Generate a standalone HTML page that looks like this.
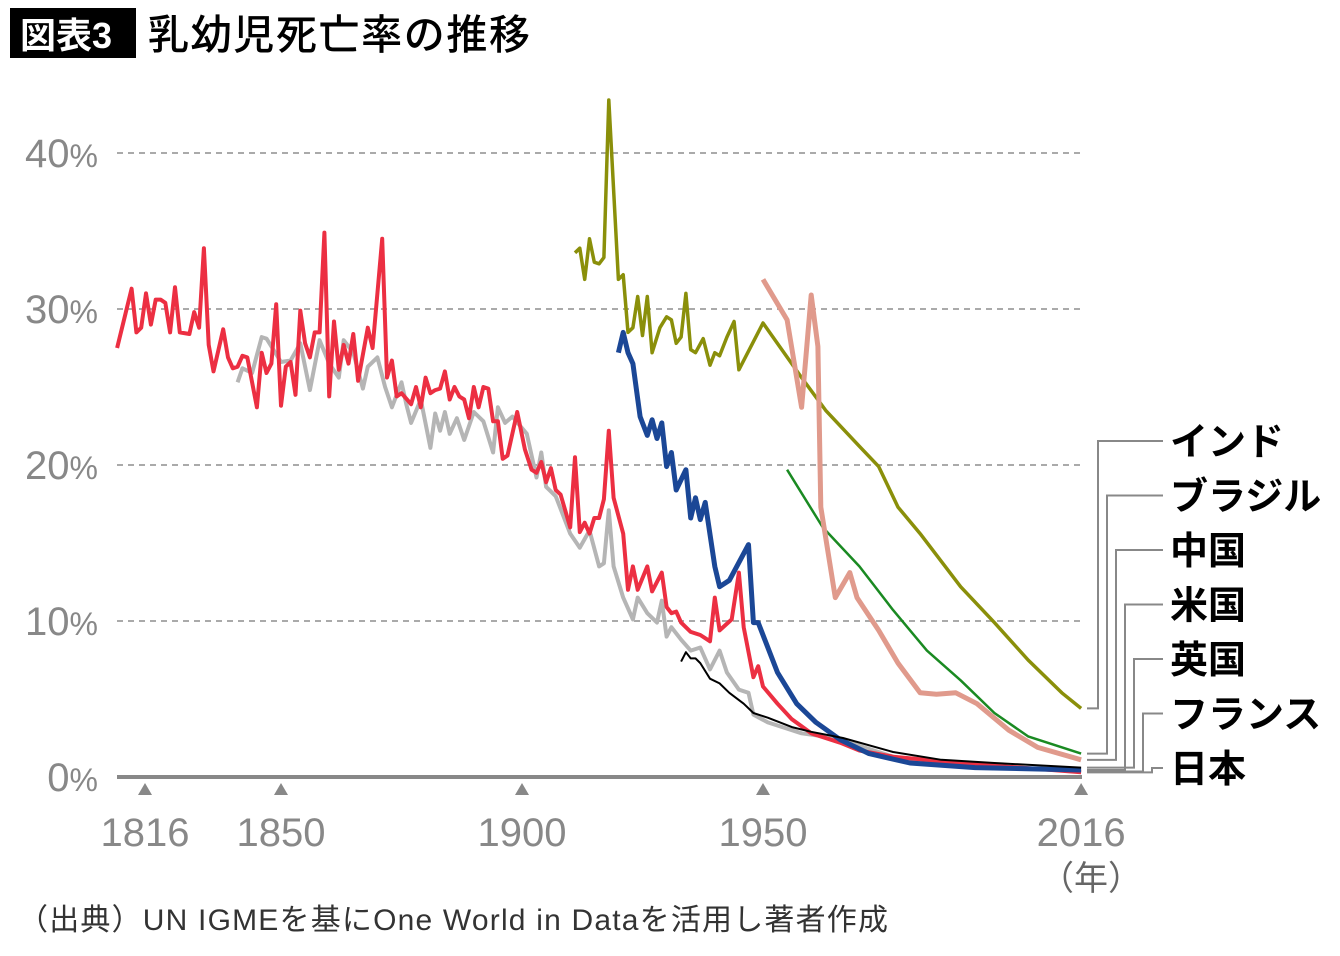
<!DOCTYPE html>
<html><head><meta charset="utf-8">
<style>
html,body{margin:0;padding:0;background:#fff;}
body{width:1340px;height:951px;overflow:hidden;font-family:"Liberation Sans","Noto Sans CJK JP",sans-serif;}
svg text{font-family:"Liberation Sans","Noto Sans CJK JP",sans-serif;}
</style></head><body>
<svg id="chart" width="1340" height="951" viewBox="0 0 1340 951" xmlns="http://www.w3.org/2000/svg">
<rect x="10" y="8" width="126" height="50" fill="#000"/>
<text x="20" y="48" font-size="36" font-weight="bold" fill="#fff">図表3</text>
<text x="148" y="49" font-size="41" font-weight="500" fill="#000" textLength="382">乳幼児死亡率の推移</text>
<g id="grid"></g>
<g id="series"></g>
<g id="axis"></g>
<g id="legend"></g>
<text x="1040" y="890" font-size="34" fill="#666">（年）</text>
<text x="18" y="930" font-size="30" fill="#333" textLength="870">（出典）UN IGMEを基にOne World in Dataを活用し著者作成</text>
</svg>
<script>
const yTicks = [0, 10, 20, 30, 40];
const xTicks = [1816, 1850, 1900, 1950, 2016];
const jpnYears = [1816,1819,1820,1821,1822,1823,1824,1825,1826,1827,1828,1829,1831,1832,1833,1834,1835,1836,1838,1839,1840,1841,1842,1843,1845,1846,1847,1848,1849,1850,1851,1852,1853,1854,1855,1856,1857,1858,1859,1860,1861,1862,1863,1864,1865,1866,1868,1869,1871,1872,1873,1874,1875,1877,1878,1879,1880,1881,1882,1883,1884,1885,1886,1887,1888,1889,1890,1891,1892,1893,1894,1895,1896,1897,1899,1900.6,1902,1903,1904,1905,1906,1907,1908,1910,1911,1912,1913,1914,1915,1916,1917,1918,1919,1921,1922,1923,1924,1926,1927,1929,1930,1931,1932,1933,1935,1937,1939,1940,1941,1943.5,1945,1946,1948,1949,1950,1953,1956,1960,1966,1970,1977,1991,2016];
const jpnValues = [27.5,31.3,28.5,28.8,31.0,29.0,30.6,30.6,30.4,28.5,31.4,28.5,28.4,29.8,28.8,33.9,27.7,26.0,28.7,26.9,26.2,26.3,27.0,26.9,23.7,27.2,25.9,26.5,30.3,23.8,26.3,26.6,24.5,29.9,27.8,26.9,28.5,28.5,34.9,24.4,29.2,26.1,27.7,26.5,28.4,25.4,28.8,27.5,34.5,25.6,26.7,24.4,24.6,23.9,25.0,23.7,25.6,24.6,24.8,24.9,26.0,24.2,25.0,24.4,24.2,23.0,25.0,23.7,25.0,24.9,22.8,22.8,20.4,20.6,23.4,21.0,19.7,19.5,20.2,18.9,19.8,18.4,18.1,16.0,20.5,15.7,16.3,15.6,16.6,16.6,17.8,22.2,17.9,15.6,12.0,13.5,12.0,13.5,11.9,13.1,10.9,10.5,10.6,9.9,9.3,9.1,8.7,11.5,9.4,10.1,13.1,9.6,6.4,7.1,5.8,4.7,3.7,2.8,2.2,1.7,1.3,0.9,0.3];
const fraYears = [1841,1842,1844,1846,1847,1850,1852,1854,1856,1858,1860,1862,1863,1865,1867,1868,1870,1871.6,1873,1875,1876,1877,1879,1881,1882,1883,1884,1885,1886.5,1888,1890,1892,1894,1895,1896.5,1898,1901,1903,1904,1905,1907,1910,1912,1914,1916,1917,1918,1919,1921,1923,1924,1926,1928,1929,1930,1931,1933,1935,1937,1939,1941,1942.5,1945,1947,1948,1951,1958,1965,1980,2016];
const fraValues = [25.3,26.2,25.9,28.2,28.1,26.6,26.7,27.8,24.8,28.0,26.5,25.6,28.0,27.2,24.9,26.3,26.9,25.0,23.7,25.3,23.9,22.7,24.2,21.1,23.3,22.2,23.4,22.0,23.0,21.6,23.4,22.8,20.8,23.7,22.7,23.1,22.0,19.2,20.8,18.6,18.0,15.6,14.7,15.8,13.5,13.7,17.1,13.5,11.5,10.1,11.5,10.5,9.9,11.3,9.0,9.6,8.8,8.1,8.3,6.9,8.1,6.7,5.6,5.4,4.0,3.5,2.8,2.5,1.0,0.35];
const gbrYears = [1933,1934,1935,1936,1937,1939,1941,1943,1946,1948,1951,1956,1960,1966.6,1977,1987,1998,2016];
const gbrValues = [7.4,8.0,7.6,7.6,7.3,6.3,6.0,5.4,4.7,4.1,3.8,3.2,2.9,2.5,1.6,1.1,0.9,0.6];
const usaYears = [1920,1921,1922,1923,1924.5,1926,1927,1928,1929,1930,1931,1932,1934,1935,1936,1937,1938,1940,1941,1943,1947,1948,1949,1953,1957,1961,1966,1972,1980.5,1994,2016];
const usaValues = [27.2,28.5,27.2,26.5,23.1,21.9,22.9,21.7,22.7,19.9,20.8,18.4,19.7,16.6,17.9,16.5,17.6,13.5,12.2,12.6,14.9,9.9,9.9,6.7,4.7,3.5,2.4,1.5,0.9,0.6,0.45];
const indYears = [1911,1912,1913,1914,1915,1916,1917,1918,1920,1921,1922,1923,1924,1925,1926,1927,1928.6,1930,1931,1932,1933,1934,1935,1936,1937.6,1939,1940,1941,1942.5,1944,1945,1950,1958,1963,1970,1974,1978,1982.6,1991,1998,2005,2012,2016];
const indValues = [33.6,33.9,31.9,34.5,33.0,32.9,33.3,43.4,31.9,32.2,28.5,28.8,30.8,28.3,30.8,27.2,28.8,29.5,29.3,27.8,28.2,31.0,27.4,27.2,28.1,26.4,27.2,27.0,28.2,29.2,26.1,29.1,25.6,23.5,21.2,19.9,17.3,15.6,12.2,9.9,7.5,5.4,4.4];
const chnYears = [1950,1955,1958,1960,1961.4,1962,1965,1968,1969.5,1974,1978,1982.6,1986,1990,1994.4,2001,2007,2016];
const chnValues = [31.9,29.3,23.7,30.9,27.6,17.3,11.5,13.1,11.5,9.4,7.3,5.4,5.3,5.4,4.7,3.0,1.9,1.1];
const braYears = [1955,1962.4,1970,1977,1984,1991,1998,2005,2016];
const braValues = [19.7,16.0,13.5,10.7,8.1,6.2,4.1,2.6,1.5];
const legendLabels = ["インド","ブラジル","中国","米国","英国","フランス","日本"];

const NS = "http://www.w3.org/2000/svg";
function xScale(yr){ return 522 + (yr - 1900) * 4.82; }
function yScale(v){ return 777 - v * 15.6; }
function mk(tag, attrs, parent){ const e = document.createElementNS(NS, tag); for (const k in attrs) e.setAttribute(k, attrs[k]); parent.appendChild(e); return e; }

const grid = document.getElementById('grid');
yTicks.forEach(t => {
  if (t > 0) {
    const l = mk('line', {x1:117, x2:1082, y1:yScale(t), y2:yScale(t), stroke:'#aaa', 'stroke-width':2, 'stroke-dasharray':'6,5'}, grid);
    
    
  }
  const tx = mk('text', {x:98, y:yScale(t) + 14, 'text-anchor':'end', 'font-size':40, fill:'#888'}, grid);
  
  
  tx.textContent = t;
  const sp = mk('tspan', {'font-size':32}, tx);
  sp.textContent = '%';
});

const seriesDefs = [
  [braYears, braValues, '#1a8a22', 2.5, 'brazil'],
  [indYears, indValues, '#8a8f0a', 3.5, 'india'],
  [chnYears, chnValues, '#e09a8c', 5, 'china'],
  [fraYears, fraValues, '#b5b5b5', 4, 'france'],
  [jpnYears, jpnValues, '#ec2f42', 4, 'japan'],
  [usaYears, usaValues, '#1b4796', 5, 'usa'],
  [gbrYears, gbrValues, '#000', 2, 'uk']
];
const sg = document.getElementById('series');
seriesDefs.forEach(s => {
  const d = s[0].map((yr, i) => (i ? 'L' : 'M') + xScale(yr).toFixed(1) + ',' + yScale(s[1][i]).toFixed(1)).join(' ');
  const p = mk('path', {d:d, fill:'none', stroke:s[2], 'stroke-width':s[3], 'stroke-linejoin':'round'}, sg);
  
  
});

const ax = document.getElementById('axis');
const base = mk('line', {x1:117, x2:1082, y1:777, y2:777, stroke:'#888', 'stroke-width':4}, ax);


xTicks.forEach(t => {
  const x = Math.max(xScale(t), 145);
  const tri = mk('path', {d:`M${x-7},795 L${x+7},795 L${x},783 Z`, fill:'#888'}, ax);
  
  
  const tx = mk('text', {x:x, y:846, 'text-anchor':'middle', 'font-size':40, fill:'#888'}, ax);
  
  
  tx.textContent = t;
});

const lg = document.getElementById('legend');
const ends = [indValues, braValues, chnValues, usaValues, gbrValues, fraValues, jpnValues];
legendLabels.forEach((lab, i) => {
  const ly = 441 + i * 54.5;
  const vx = 1098 + i * 9;
  const arr = ends[i];
  let ey = yScale(arr[arr.length - 1]);
  if (i >= 2) ey = Math.max(ey, 757 + (i - 2) * 3.3);
  const p = mk('path', {d:`M1087,${ey} L${vx},${ey} L${vx},${ly} L1163,${ly}`, fill:'none', stroke:'#888', 'stroke-width':2}, lg);
  
  
  const tx = mk('text', {x:1170, y:ly + 14, 'font-size':38, 'font-weight':'bold', fill:'#000'}, lg);
  
  
  tx.textContent = lab;
});
</script>
</body></html>
